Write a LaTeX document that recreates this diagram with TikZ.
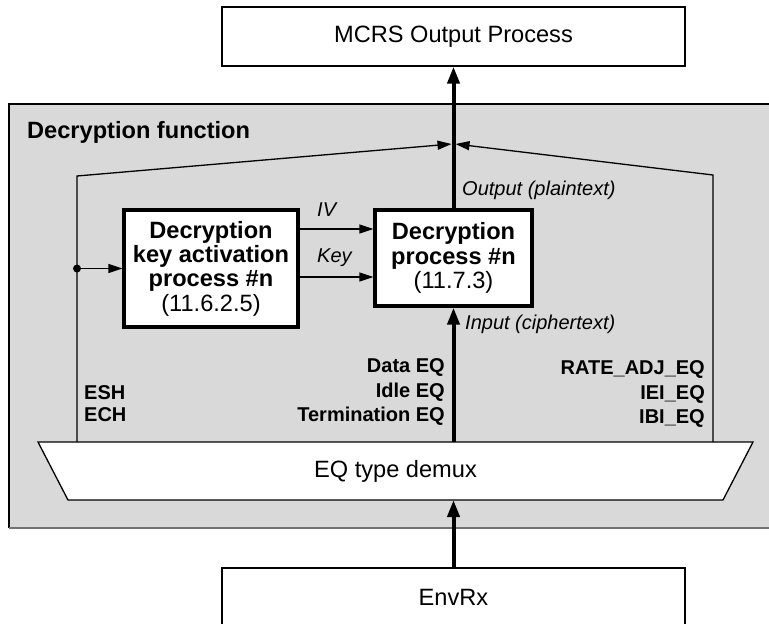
\documentclass[tikz,border=0pt]{standalone}
\usepackage{fontspec}
\setmainfont{Liberation Sans}
\usetikzlibrary{arrows.meta,positioning,calc}

\begin{document}
\begin{tikzpicture}[
  x=1pt, y=-1pt,
  box/.style={draw, line width=1.3pt, fill=white, align=center, inner sep=0pt,
              font=\fontsize{23.6}{24.3}\selectfont},
  procbox/.style={box, line width=3.3pt},
  lbl/.style={font=\fontsize{20}{24.5}\selectfont\bfseries, inner sep=0pt},
  sig/.style={font=\fontsize{20}{24}\selectfont\itshape, inner sep=0pt},
  arr/.style={-{Triangle[length=14pt,width=9pt]}, line width=1.3pt},
  bigarr/.style={-{Triangle[length=17pt,width=12pt]}, line width=4pt}
]
\useasboundingbox (0,0) rectangle (769,624);

% function frame
\fill[gray!30] (9,104) rectangle (790,528);
\draw[line width=1.2pt] (790,104) -- (9,104) -- (9,528);
\draw[line width=1.2pt, black!55] (9,528) -- (790,528);
\node[anchor=west, inner sep=0pt, font=\fontsize{23.6}{24.3}\selectfont\bfseries]
  (fnlabel) at (27,132) {Decryption function};

% boxes
\node[box, minimum width=463pt, minimum height=59pt] (mcrs) at (453.5,36.5) {MCRS Output Process};
\node[procbox, minimum width=174pt, minimum height=117pt] (keyact) at (211,268.5)
  {\bfseries Decryption\\\bfseries key activation\\\bfseries process \#n\\(11.6.2.5)};
\node[procbox, minimum width=157pt, minimum height=96pt] (decr) at (453.5,258)
  {\bfseries Decryption\\\bfseries process \#n\\(11.7.3)};
\node[box, minimum width=463pt, minimum height=59pt] (envrx) at (453.5,597.5) {EnvRx};

% demux
\coordinate (dmTL) at (38,442);
\coordinate (dmTR) at (753,442);
\coordinate (dmBR) at (723,500);
\coordinate (dmBL) at (68,500);
\draw[fill=white, line width=1.3pt] (dmTL) -- (dmTR) -- (dmBR) -- (dmBL) -- cycle;
\node[box, draw=none, fill=none] (demux) at (395.5,471) {EQ type demux};

% labels
\node[lbl, align=right, anchor=east] (eqs) at (445,392) {Data EQ\\Idle EQ\\Termination EQ};
\node[lbl, align=left, anchor=west] (hdrs) at (84,404) {ESH\\[-2.5pt]ECH};
\node[lbl, align=right, anchor=east] (rates) at (705,394) {RATE\_ADJ\_EQ\\IEI\_EQ\\IBI\_EQ};
\node[sig, anchor=west] (ivlbl) at (317,210) {IV};
\node[sig, anchor=west] (keylbl) at (317,258) {Key};
\node[sig, anchor=west] (outlbl) at (462,190) {Output (plaintext)};
\node[sig, anchor=west] (inlbl) at (465,324) {Input (ciphertext)};

% connectors
\coordinate (join) at (453.5,144);
\coordinate (lfoot) at (77,442);
\coordinate (lbend) at (77,176);
\coordinate (rfoot) at (713,442);
\coordinate (rbend) at (713,175);
\draw[arr] (lfoot) -- (lbend) -- ([xshift=-2pt]join);
\draw[arr] (rfoot) -- (rbend) -- ([xshift=2pt]join);

\coordinate (tap) at (lfoot |- keyact.west);
\fill (tap) circle (4pt);
\draw[arr] (tap) -- (keyact.west);
\draw[arr] (keyact.east |- 0,229) -- (decr.west |- 0,229);
\draw[arr] (keyact.east |- 0,277) -- (decr.west |- 0,277);

\draw[bigarr] (decr.north) -- (mcrs.south);
\draw[bigarr] (decr.south |- dmTL) -- (decr.south);
\draw[bigarr] (envrx.north) -- (envrx.north |- dmBL);
\end{tikzpicture}
\end{document}
